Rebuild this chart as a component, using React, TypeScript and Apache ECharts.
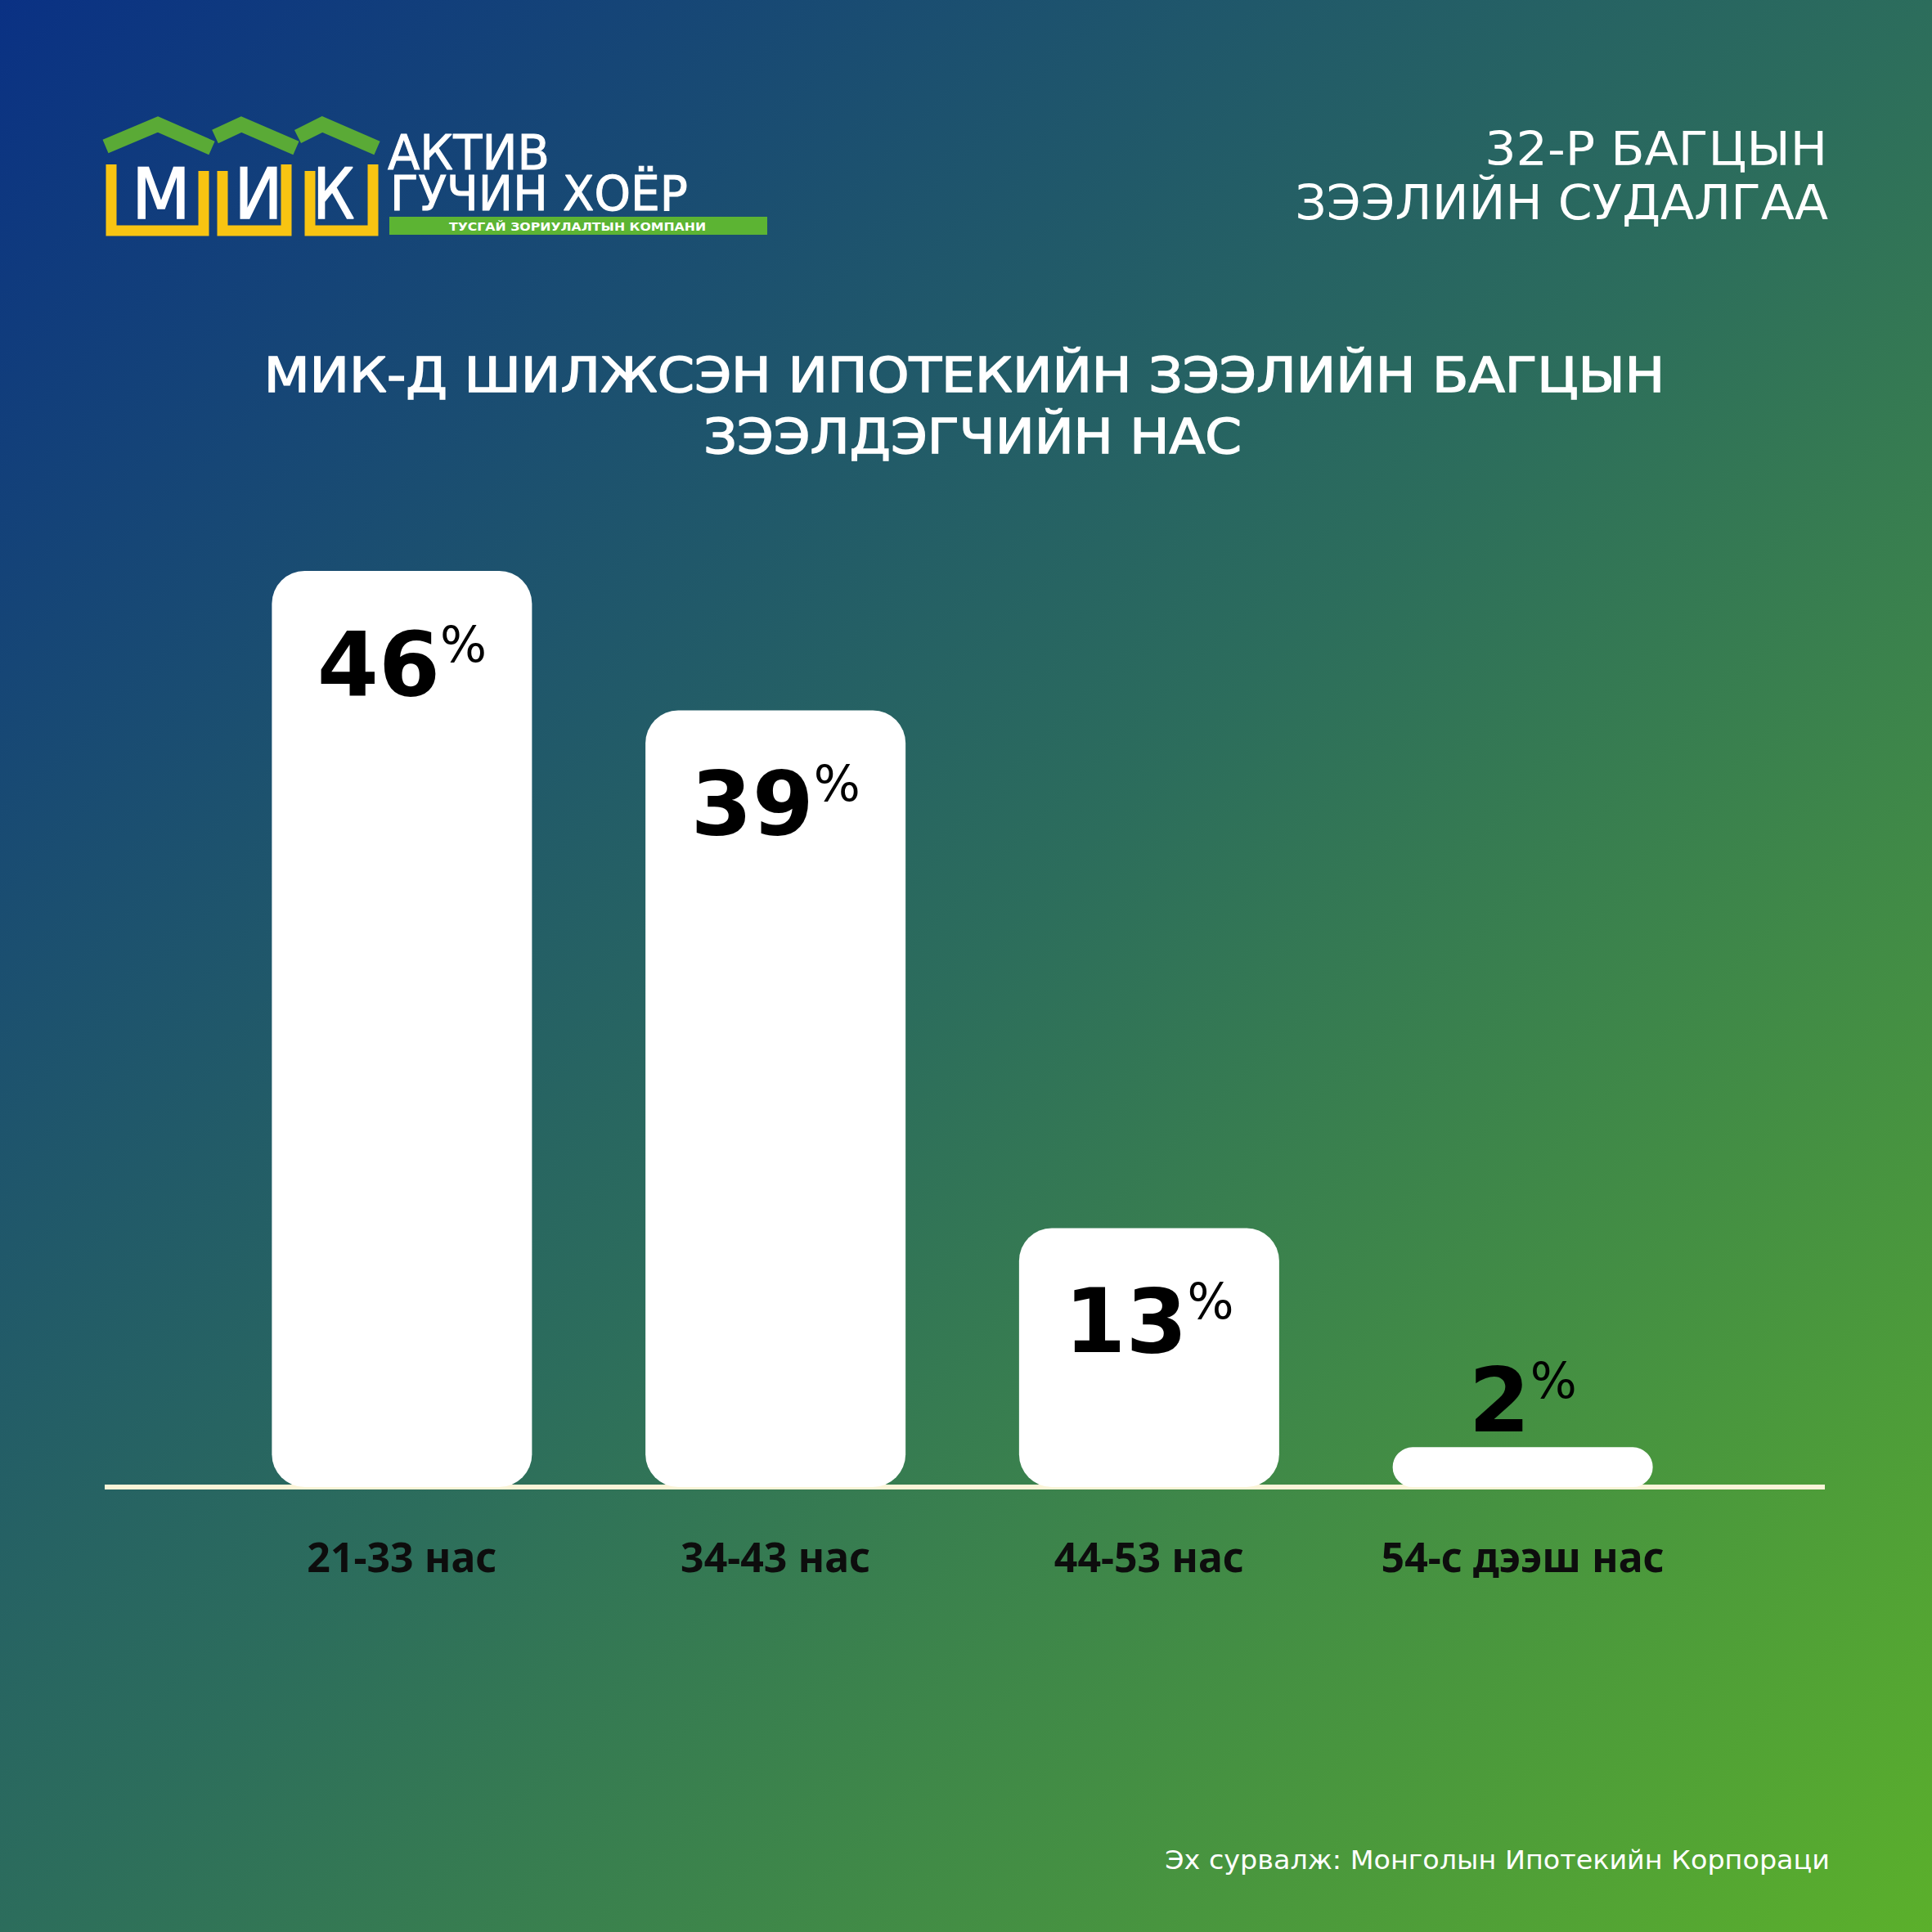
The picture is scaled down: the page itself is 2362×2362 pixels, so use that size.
import React, { useEffect, useRef } from 'react';
import * as echarts from 'echarts';

// ---- data ----
const categories = ['21-33 нас', '34-43 нас', '44-53 нас', '54-с дээш нас'];
const shares = [46, 39, 13, 2];
const headerLines = ['32-Р БАГЦЫН', 'ЗЭЭЛИЙН СУДАЛГАА'];
const titleLines = ['МИК-Д ШИЛЖСЭН ИПОТЕКИЙН ЗЭЭЛИЙН БАГЦЫН', 'ЗЭЭЛДЭГЧИЙН НАС'];
const sourceText = 'Эх сурвалж: Монголын Ипотекийн Корпораци';
const logoLetters = ['М', 'И', 'К'];
const logoName = ['АКТИВ', 'ГУЧИН ХОЁР'];
const logoTagline = 'ТУСГАЙ ЗОРИУЛАЛТЫН КОМПАНИ';

const DV = '"DejaVu Sans", sans-serif';
const NOTO = '"Noto Sans", "DejaVu Sans", sans-serif';
const SIZE = 2362;
// DejaVu Sans metrics (em): cap height, cap top above central baseline
const CAP = 0.729;
const CAP_ABOVE_CENTER = 0.383;

// logo geometry (decoration)
const brackets = [
  [[136, 201], [136, 282], [249, 282], [249, 209]],
  [[272, 209], [272, 282], [350, 282], [350, 201]],
  [[379, 209], [379, 282], [456, 282], [456, 201]],
];
const roofs = [
  [[129, 179], [193, 152], [259, 181]],
  [[263, 167], [295, 152], [362, 181]],
  [[364, 167], [394, 152], [461, 181]],
];

let measureCtx: CanvasRenderingContext2D | null = null;
function measure(text: string, size: number, weight: string, family: string) {
  if (!measureCtx) measureCtx = document.createElement('canvas').getContext('2d');
  if (!measureCtx) return 1;
  measureCtx.font = `${weight} ${size}px ${family}`;
  return measureCtx.measureText(text).width || 1;
}

type Spec = {
  text: string;
  x: number; // anchor x
  align: 'left' | 'right' | 'center';
  width: number; // target drawn width
  capTop: number;
  cap: number;
  weight?: string;
  stroke?: number;
  z?: number;
};

function fittedText(s: Spec) {
  const weight = s.weight || 'normal';
  const fontSize = s.cap / CAP;
  const w = measure(s.text, fontSize, weight, DV);
  const style: any = {
    text: s.text,
    x: 0,
    y: 0,
    fill: '#ffffff',
    fontSize,
    fontWeight: weight,
    fontFamily: DV,
    align: s.align,
    verticalAlign: 'middle',
  };
  if (s.stroke) {
    style.stroke = '#ffffff';
    style.lineWidth = s.stroke;
  }
  return {
    type: 'text',
    z: s.z ?? 6,
    x: s.x,
    y: s.capTop + CAP_ABOVE_CENTER * fontSize,
    scaleX: s.width / w,
    silent: true,
    style,
  };
}

function buildGraphic() {
  const g: any[] = [];
  g.push({
    type: 'rect',
    z: -10,
    silent: true,
    shape: { x: 0, y: 0, width: SIZE, height: SIZE },
    style: {
      fill: new echarts.graphic.LinearGradient(0, 0, 1, 1, [
        { offset: 0, color: '#0a3184' },
        { offset: 0.5, color: '#2c6d5c' },
        { offset: 1, color: '#5bb02b' },
      ]),
    },
  });
  // baseline
  g.push({
    type: 'line',
    z: 1,
    silent: true,
    shape: { x1: 128, y1: 1818, x2: 2231, y2: 1818 },
    style: { stroke: '#fbf4d8', lineWidth: 6 },
  });
  // logo
  roofs.forEach((pts) =>
    g.push({
      type: 'polyline',
      z: 5,
      silent: true,
      shape: { points: pts },
      style: { stroke: '#5aaa36', lineWidth: 18, fill: null, lineJoin: 'miter' },
    })
  );
  brackets.forEach((pts) =>
    g.push({
      type: 'polyline',
      z: 5,
      silent: true,
      shape: { points: pts },
      style: { stroke: '#f8c412', lineWidth: 13, fill: null, lineJoin: 'miter' },
    })
  );
  const letterBoxes = [
    { x: 197, w: 72 },
    { x: 316, w: 59 },
    { x: 408, w: 51 },
  ];
  logoLetters.forEach((t, i) =>
    g.push(
      fittedText({ text: t, x: letterBoxes[i].x, align: 'center', width: letterBoxes[i].w, capTop: 205, cap: 62, stroke: 1.5 })
    )
  );
  g.push(fittedText({ text: logoName[0], x: 474, align: 'left', width: 198, capTop: 164, cap: 43, stroke: 1 }));
  g.push(fittedText({ text: logoName[1], x: 477, align: 'left', width: 364, capTop: 214, cap: 43, stroke: 1 }));
  g.push({
    type: 'rect',
    z: 5,
    silent: true,
    shape: { x: 476, y: 265, width: 462, height: 22 },
    style: { fill: '#5cb433' },
  });
  g.push(fittedText({ text: logoTagline, x: 706, align: 'center', width: 314, capTop: 272, cap: 10.5, weight: 'bold' }));
  // header top-right
  g.push(fittedText({ text: headerLines[0], x: 2234, align: 'right', width: 419, capTop: 160, cap: 42 }));
  g.push(fittedText({ text: headerLines[1], x: 2235, align: 'right', width: 652, capTop: 225, cap: 43 }));
  // main title
  g.push(fittedText({ text: titleLines[0], x: 1179, align: 'center', width: 1712, capTop: 436, cap: 43, stroke: 1.5 }));
  g.push(fittedText({ text: titleLines[1], x: 1189, align: 'center', width: 658, capTop: 511, cap: 43, stroke: 1.5 }));
  // source
  g.push(fittedText({ text: sourceText, x: 2237, align: 'right', width: 813, capTop: 2262, cap: 23 }));
  return g;
}

export default function App() {
  const ref = useRef<HTMLDivElement>(null);
  useEffect(() => {
    document.body.style.margin = '0';
    document.body.style.overflow = 'hidden';
    if (!ref.current) return;
    const chart = echarts.init(ref.current, null, { renderer: 'svg' });
    const option: any = {
      animation: false,
      grid: { left: 263, right: 272, top: 698, bottom: 544 },
      xAxis: {
        type: 'category',
        data: categories,
        axisLine: { show: false },
        axisTick: { show: false },
        axisLabel: {
          margin: 60,
          fontSize: 50,
          fontWeight: 'bold',
          color: '#0d0d0d',
          fontFamily: NOTO,
        },
      },
      yAxis: { type: 'value', min: 0, max: 46, show: false, splitLine: { show: false } },
      series: [
        {
          type: 'bar',
          barWidth: 318,
          z: 3,
          data: shares.map((v) =>
            v < 8 ? { value: v, label: { position: 'top', distance: 3 } } : { value: v }
          ),
          itemStyle: { color: '#ffffff', borderRadius: 40 },
          label: {
            show: true,
            position: 'insideTop',
            distance: 60,
            color: '#000',
            formatter: (p: any) => `{n|${p.value}}{p|%}`,
            rich: {
              n: { fontSize: 108, fontWeight: 'bold', color: '#000', lineHeight: 108, fontFamily: DV },
              p: { fontSize: 60, color: '#000', lineHeight: 60, verticalAlign: 'top', fontFamily: DV },
            },
          },
        },
      ],
      graphic: buildGraphic(),
    };
    chart.setOption(option);
    return () => chart.dispose();
  }, []);
  return <div ref={ref} style={{ width: SIZE + 'px', height: SIZE + 'px' }} />;
}
